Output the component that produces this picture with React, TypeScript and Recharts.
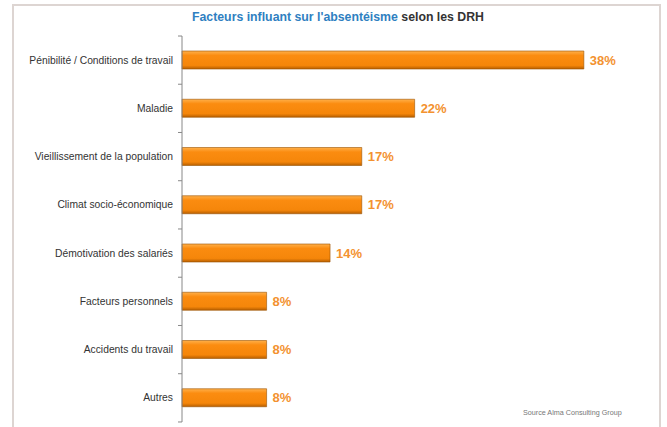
import React from 'react';
import { Bar, BarChart, LabelList, XAxis, YAxis } from 'recharts';

const categories = [
    'Pénibilité / Conditions de travail',
    'Maladie',
    'Vieillissement de la population',
    'Climat socio-économique',
    'Démotivation des salariés',
    'Facteurs personnels',
    'Accidents du travail',
    'Autres',
];

const values = [38, 22, 17, 17, 14, 8, 8, 8];

const data = categories.map((name, i) => ({ name, value: values[i] }));

const FONT = '"Liberation Sans", Arial, sans-serif';
const HALF_BAND = 24.1;

const CategoryTick = (props: any) => {
    const { x, y, payload, index } = props;
    return (
        <g>
            <text x={x - 9} y={y} dy={3.5} textAnchor="end" fontSize={10.3} fill="#333" fontFamily={FONT}>
                {payload.value}
            </text>
            <line x1={x - 4} x2={x} y1={y + HALF_BAND} y2={y + HALF_BAND} stroke="#888" />
            {index === 0 && <line x1={x - 4} x2={x} y1={y - HALF_BAND} y2={y - HALF_BAND} stroke="#888" />}
        </g>
    );
};

const App: React.FC = () => {
    return (
        <div style={{ position: 'absolute', left: 0, top: 0, width: 667, height: 427, background: '#fff', overflow: 'hidden' }}>
            <div
                style={{
                    position: 'absolute',
                    left: 12,
                    top: 4,
                    width: 649,
                    height: 440,
                    border: '2px solid #ddd5d2',
                    boxSizing: 'border-box',
                }}
            />
            <div
                style={{
                    position: 'absolute',
                    left: 0,
                    top: 10,
                    width: 676,
                    textAlign: 'center',
                    fontFamily: FONT,
                    fontSize: 12.3,
                    fontWeight: 'bold',
                    color: '#333',
                }}
            >
                <span style={{ color: '#2f7fc1' }}>Facteurs influant sur l'absentéisme</span> selon les DRH
            </div>
            <div
                style={{
                    position: 'absolute',
                    left: 523,
                    top: 408,
                    fontFamily: FONT,
                    fontSize: 7.2,
                    color: '#777',
                }}
            >
                Source Alma Consulting Group
            </div>
            <div style={{ position: 'absolute', left: 0, top: 0 }}>
                <BarChart
                    width={667}
                    height={427}
                    data={data}
                    layout="vertical"
                    margin={{ top: 36, right: 62, bottom: 5, left: 12 }}
                    barCategoryGap={30}
                >
                    <defs>
                        <linearGradient id="barFill" x1="0" y1="0" x2="0" y2="1">
                            <stop offset="0%" stopColor="#ffb04a" />
                            <stop offset="25%" stopColor="#fb8c10" />
                            <stop offset="80%" stopColor="#f5860a" />
                            <stop offset="100%" stopColor="#b85f00" />
                        </linearGradient>
                    </defs>
                    <XAxis type="number" domain={[0, 40]} hide />
                    <YAxis
                        type="category"
                        dataKey="name"
                        width={170}
                        tickSize={0}
                        tickMargin={0}
                        tickLine={false}
                        axisLine={{ stroke: '#888' }}
                        tick={<CategoryTick />}
                        interval={0}
                    />
                    <Bar dataKey="value" fill="url(#barFill)" stroke="#9a5200" strokeWidth={0.6} barSize={18} isAnimationActive={false}>
                        <LabelList
                            dataKey="value"
                            position="right"
                            offset={6}
                            formatter={(v: any) => `${v}%`}
                            fill="#f39230"
                            fontSize={13}
                            fontWeight="bold"
                            fontFamily={FONT}
                        />
                    </Bar>
                </BarChart>
            </div>
        </div>
    );
};

export default App;
